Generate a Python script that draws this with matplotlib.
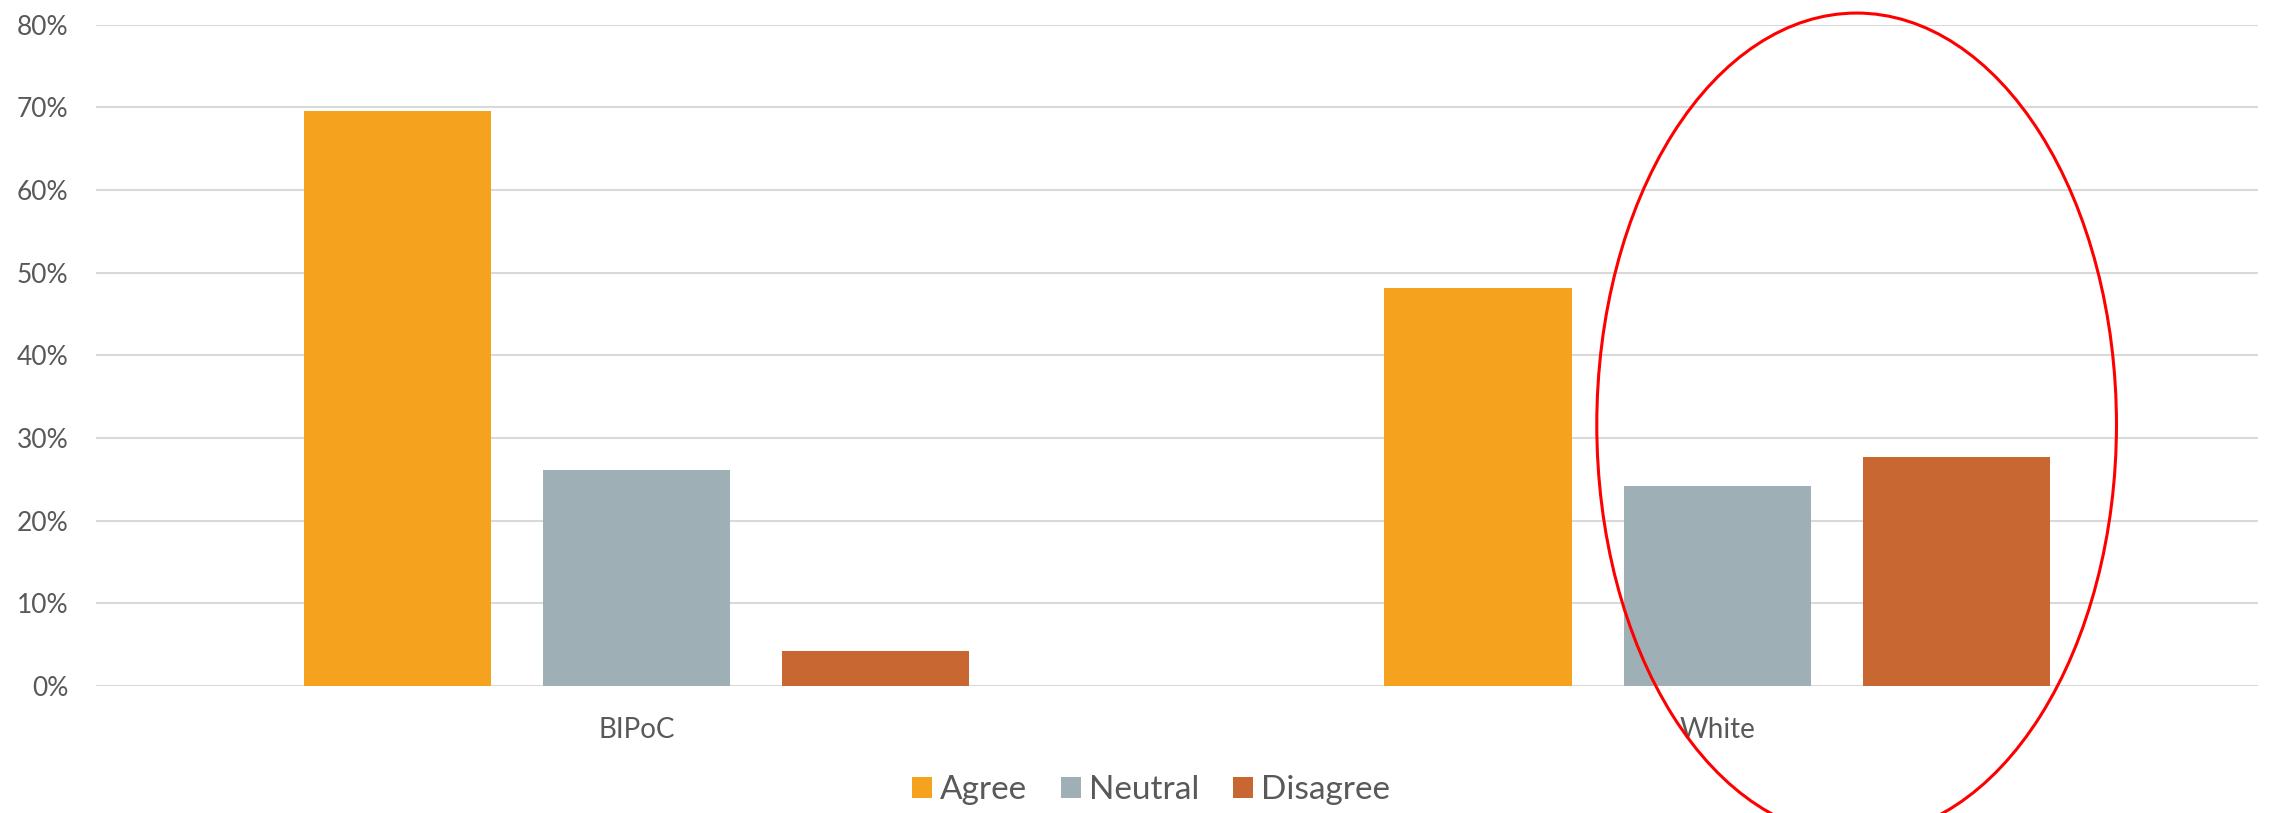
import matplotlib.pyplot as plt
import numpy as np
from matplotlib.patches import Ellipse
from matplotlib.ticker import PercentFormatter

# data
groups = ['BIPoC', 'White']
answers = ['Agree', 'Neutral', 'Disagree']
agree = [69.5, 48.1]
neutral = [26.1, 24.2]
disagree = [4.2, 27.7]
yticks = [0, 10, 20, 30, 40, 50, 60, 70, 80]

colors = ['#F5A31F', '#9EB0B5', '#C86731']
textcol = '#595959'

plt.rcParams['font.family'] = ['Lato', 'DejaVu Sans']

fig = plt.figure(figsize=(22.7, 8.13), dpi=100)
ax = fig.add_axes([0.0423, 0.1562, 0.9523, 0.8135])

x = np.arange(len(groups))
w = 0.1734  # bar width
step = 0.2213  # distance between bars in a group
for i, (vals, lab) in enumerate(zip([agree, neutral, disagree], answers)):
    ax.bar(x + (i - 1) * step, vals, width=w, color=colors[i], label=lab, zorder=3)

ax.set_xlim(-0.5, 1.5)
ax.set_ylim(0, 80)
ax.set_yticks(yticks)
ax.yaxis.set_major_formatter(PercentFormatter(decimals=0))
ax.set_xticks(x)
ax.set_xticklabels(groups)
ax.grid(axis='y', color='#D9D9D9', linewidth=1.5, zorder=0)
ax.tick_params(axis='both', length=0, colors=textcol)
ax.tick_params(axis='y', labelsize=19, pad=20)
ax.tick_params(axis='x', labelsize=20, pad=22)
for s in ax.spines.values():
    s.set_visible(False)

# red ellipse highlighting the White group
ell = Ellipse((1.1289, 31.6), width=0.4808, height=99.6, fill=False,
              edgecolor='#FF0000', linewidth=2.2, clip_on=False, zorder=5)
ax.add_patch(ell)

leg = fig.legend(loc='center', bbox_to_anchor=(1151 / 2270, 1 - 790 / 813), ncol=3,
                 frameon=False, fontsize=24, handlelength=0.6, handleheight=0.6,
                 handletextpad=0.25, columnspacing=1.0)
for t in leg.get_texts():
    t.set_color(textcol)

fig.savefig('out.png', dpi=100)
